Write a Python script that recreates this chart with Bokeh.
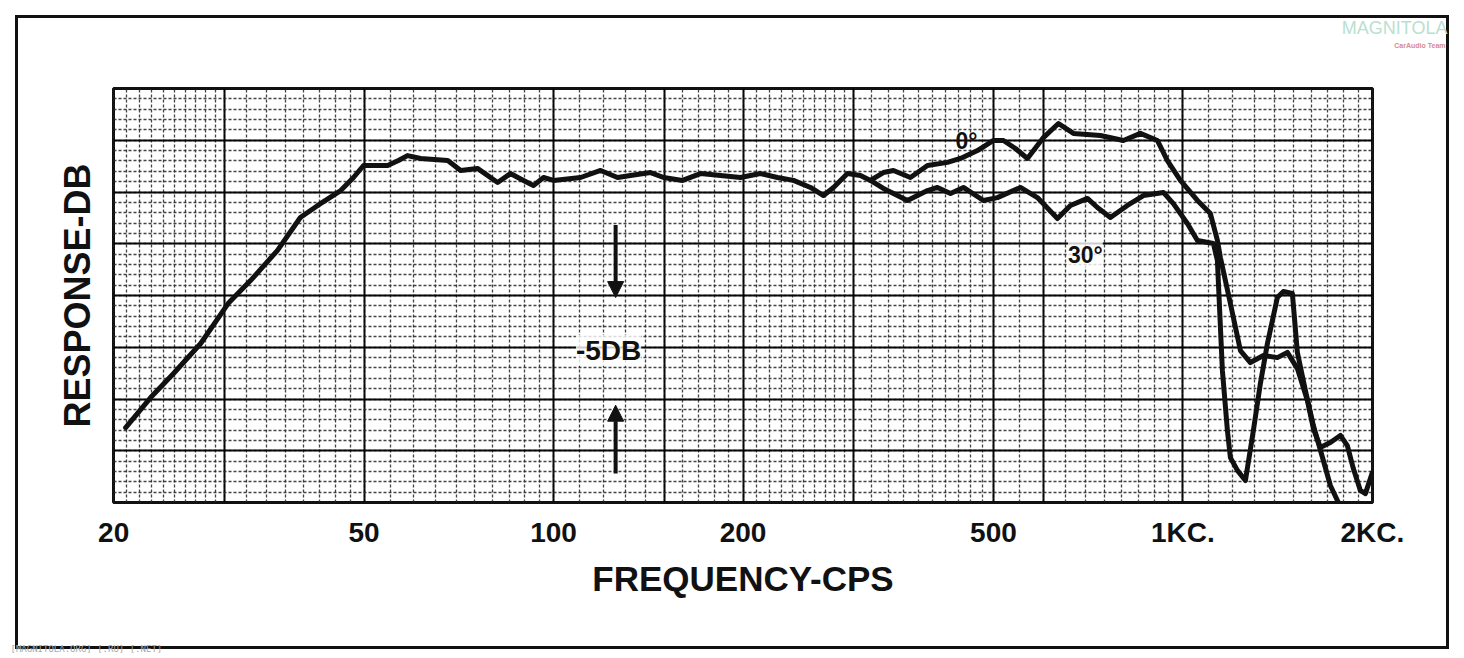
from bokeh.plotting import figure
from bokeh.models import Range1d, FixedTicker, Label, Arrow, NormalHead, Title
from bokeh.embed import file_html
from bokeh.resources import INLINE

# ---- data (frequency in Hz, response in dB, 0 = top of chart) ----
common_freq = [20.9, 22.9, 24.9, 27.5, 30.4, 33.0, 36.4, 39.6, 42.2, 45.9, 48.1, 49.9,
               54.5, 56.7, 58.6, 61.5, 67.9, 71.2, 75.7, 81.5, 85.4, 89.6, 92.9, 96.4,
               100.0, 110.4, 118.8, 126.4, 132.5, 142.6, 149.6, 160.3, 171.2, 184.2,
               198.2, 213.2, 226.9, 240.6, 256.0, 268.5, 278.5, 293.1, 307.4, 318.8]
common_db = [-16.38, -14.93, -13.77, -12.32, -10.39, -9.28, -7.83, -6.23, -5.65, -4.93,
             -4.30, -3.72, -3.72, -3.48, -3.24, -3.38, -3.48, -3.96, -3.86, -4.54, -4.11,
             -4.44, -4.69, -4.30, -4.44, -4.30, -3.96, -4.30, -4.20, -4.06, -4.30, -4.44,
             -4.11, -4.20, -4.30, -4.11, -4.30, -4.44, -4.78, -5.17, -4.78, -4.11, -4.20,
             -4.44]

zero_freq = [334.3, 346.8, 369.0, 392.8, 422.6, 443.2, 471.6, 500.0, 518.6, 541.9, 566.2,
             600.3, 634.2, 670.0, 739.5, 804.4, 855.9, 910.8, 944.8, 990.9, 1054.5, 1105.8,
             1134.5, 1147.0, 1189.7, 1234.1, 1280.1, 1342.5, 1412.9, 1465.5, 1520.2, 1576.8,
             1611.8, 1653.4, 1715.1, 1779.1, 1825.1, 1865.6, 1914.1, 1949.5, 2000.0]
zero_db = [-4.06, -3.96, -4.30, -3.72, -3.57, -3.38, -3.00, -2.51, -2.51, -2.90, -3.38,
           -2.37, -1.69, -2.17, -2.27, -2.51, -2.17, -2.51, -3.48, -4.44, -5.41, -6.04,
           -7.34, -8.16, -10.39, -12.66, -13.24, -12.90, -13.00, -12.75, -13.53, -15.07,
           -16.43, -17.34, -17.10, -16.76, -17.25, -18.36, -19.42, -19.57, -18.55]

thirty_freq = [334.3, 365.0, 392.8, 407.4, 427.3, 448.0, 482.0, 507.3, 551.9, 587.2, 631.9,
               662.7, 705.2, 731.4, 767.0, 816.2, 865.4, 931.0, 965.7, 1016.6, 1054.5, 1118.0,
               1134.5, 1155.4, 1176.8, 1189.7, 1220.7, 1256.9, 1294.2, 1327.8, 1362.3, 1412.9,
               1444.4, 1492.6, 1520.2, 1565.5, 1611.8, 1671.7, 1715.1, 1766.1]
thirty_db = [-4.83, -5.41, -4.93, -4.78, -5.07, -4.78, -5.41, -5.27, -4.78, -5.27, -6.28,
             -5.65, -5.31, -5.75, -6.23, -5.65, -5.17, -5.02, -5.56, -6.52, -7.34, -7.49,
             -8.31, -13.62, -16.52, -17.83, -18.45, -18.94, -16.52, -14.25, -12.32, -10.10,
             -9.81, -9.90, -12.75, -14.59, -16.28, -17.97, -19.18, -20.0]

xtick_values = [20, 50, 100, 200, 500, 1000, 2000]
xtick_labels = ["20", "50", "100", "200", "500", "1KC.", "2KC."]

FONT = "Liberation Sans"
INK = "#111111"

p = figure(x_axis_type="log", x_range=Range1d(19.99, 2001), y_range=Range1d(-20, 0),
           frame_width=1259, frame_height=414,
           min_border_left=113, min_border_right=90, min_border_top=88, min_border_bottom=154,
           output_backend="svg", toolbar_location=None,
           background_fill_color="white", border_fill_color=None)

# outer picture frame, painted behind the (transparent) canvas border area
bar = "linear-gradient(#111111,#111111)"
p.styles = {"background": (f"{bar} 15px 15px / 1434px 3px no-repeat, "
                           f"{bar} 15px 646px / 1434px 3px no-repeat, "
                           f"{bar} 15px 15px / 3px 634px no-repeat, "
                           f"{bar} 1446px 15px / 3px 634px no-repeat, #ffffff")}

# ---- graph-paper grid ----
minor_x = []
for lo, hi, step in [(20, 30, 1), (30, 50, 2.5), (50, 100, 5), (100, 300, 10),
                     (300, 500, 20), (500, 1000, 50), (1000, 2000, 100)]:
    v = lo
    while v < hi - 1e-9:
        minor_x.append(v)
        v += step
minor_x.append(2000)
heavy_x = [30, 50, 100, 150, 200, 300, 500, 600, 1000]

minor_y = [-20 + 0.5 * i for i in range(41)]
heavy_y = [-20 + 2.5 * i for i in range(9)]

for g, ticks, minor in [(p.xgrid, heavy_x, minor_x), (p.ygrid, heavy_y, minor_y)]:
    g.axis = None
    g.ticker = FixedTicker(ticks=ticks, minor_ticks=minor)
    g.grid_line_color = "black"
    g.grid_line_width = 2
    g.grid_line_alpha = 0.95
    g.minor_grid_line_color = "#2a2a2a"
    g.minor_grid_line_width = 1.3
    g.minor_grid_line_dash = "3 2"
    g.minor_grid_line_alpha = 0.88

p.outline_line_color = INK
p.outline_line_width = 3
p.outline_line_alpha = 1

# ---- curves ----
p.line(common_freq + zero_freq, common_db + zero_db, line_width=5, line_color=INK,
       line_join="round", line_cap="round")
p.line(common_freq[-1:] + thirty_freq, common_db[-1:] + thirty_db, line_width=5,
       line_color=INK, line_join="round", line_cap="round")

# ---- annotations ----
p.add_layout(Label(x=453, y=-2.55, text="0°", text_align="center", text_baseline="middle",
                   text_font=FONT, text_font_size="23px", text_font_style="bold",
                   text_color=INK))
p.add_layout(Label(x=700, y=-8.02, text="30°", text_align="center", text_baseline="middle",
                   text_font=FONT, text_font_size="23px", text_font_style="bold",
                   text_color=INK, background_fill_color="white", background_fill_alpha=0.8))
p.add_layout(Label(x=122.3, y=-12.66, text="-5DB", text_align="center", text_baseline="middle",
                   text_font=FONT, text_font_size="28px", text_font_style="bold",
                   text_color=INK, background_fill_color="white", background_fill_alpha=0.8))
for y0, y1 in [(-6.6, -10.1), (-18.6, -15.3)]:
    p.add_layout(Arrow(end=NormalHead(size=16, fill_color=INK, line_color=INK),
                       x_start=125.5, y_start=y0, x_end=125.5, y_end=y1,
                       line_width=4, line_color=INK))

# ---- axes ----
xa = p.xaxis[0]
xa.ticker = FixedTicker(ticks=xtick_values)
xa.major_label_overrides = {v: s for v, s in zip(xtick_values, xtick_labels)}
xa.axis_line_color = None
xa.major_tick_line_color = None
xa.minor_tick_line_color = None
xa.major_label_text_font = FONT
xa.major_label_text_font_size = "28px"
xa.major_label_text_font_style = "bold"
xa.major_label_text_color = INK
xa.major_label_standoff = 8
xa.axis_label = "FREQUENCY-CPS"
xa.axis_label_text_font = FONT
xa.axis_label_text_font_size = "35px"
xa.axis_label_text_font_style = "bold"
xa.axis_label_text_color = INK
xa.axis_label_standoff = 8

ya = p.yaxis[0]
ya.ticker = FixedTicker(ticks=[])
ya.axis_line_color = None
ya.major_tick_line_color = None
ya.minor_tick_line_color = None
ya.axis_label = "RESPONSE-DB"
ya.axis_label_text_font = FONT
ya.axis_label_text_font_size = "36px"
ya.axis_label_text_font_style = "bold"
ya.axis_label_text_color = INK
ya.axis_label_standoff = 16

# ---- site watermarks of the scan (stacked outward from the frame) ----
p.add_layout(Title(text=" ", text_font_size="10px", standoff=26), "above")
p.add_layout(Title(text="CarAudio Team", align="right", offset=-73, vertical_align="bottom",
                   text_font=FONT, text_font_size="7px", text_font_style="bold",
                   text_color="#d98a8a", standoff=2), "above")
p.add_layout(Title(text="MAGNITOLA", align="right", offset=-75, vertical_align="bottom",
                   text_font=FONT, text_font_size="18px", text_font_style="normal",
                   text_color="#b9dfd1", standoff=2), "above")
p.add_layout(Title(text=" ", text_font_size="10px", standoff=27), "below")
p.add_layout(Title(text="[MAGNITOLA.ORG] [.RU] [.NET]", align="left", offset=-103,
                   vertical_align="bottom", text_font="DejaVu Sans Mono",
                   text_font_size="9px", text_font_style="normal", text_color="#a8a8a8",
                   standoff=2), "below")

open("out.html", "w").write(file_html(p, INLINE))
